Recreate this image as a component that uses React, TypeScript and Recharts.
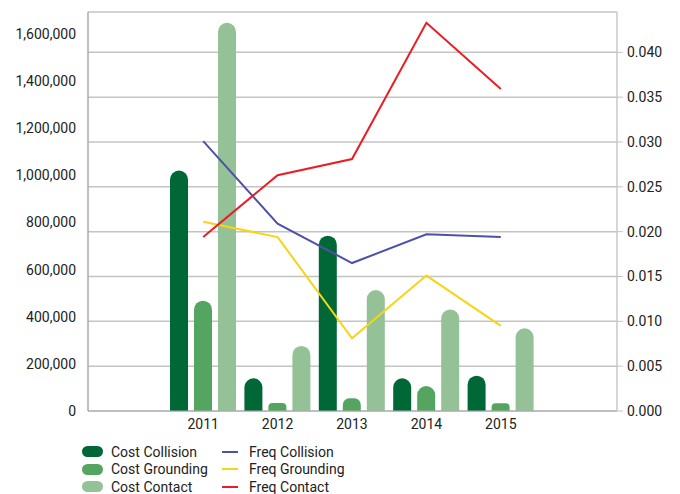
import React from 'react';
import { ComposedChart, Bar, Line, XAxis, YAxis, CartesianGrid, Legend } from 'recharts';

const years = ['2011', '2012', '2013', '2014', '2015'];
const costCollision = [1020000, 139000, 744000, 139000, 150000];
const costGrounding = [468000, 34000, 54000, 106000, 33000];
const costContact = [1647000, 276000, 513000, 431000, 351000];
const freqCollision = [0.0301, 0.0209, 0.0165, 0.0197, 0.0194];
const freqGrounding = [0.0211, 0.0194, 0.0081, 0.0151, 0.0095];
const freqContact = [0.0194, 0.0263, 0.0281, 0.0433, 0.0359];
const leftTicks = [0, 200000, 400000, 600000, 800000, 1000000, 1200000, 1400000, 1600000];
const rightTicks = [0, 0.005, 0.01, 0.015, 0.02, 0.025, 0.03, 0.035, 0.04];
const seriesNames = ['Cost Collision', 'Cost Grounding', 'Cost Contact', 'Freq Collision', 'Freq Grounding', 'Freq Contact'];

const data = years.map((y, i) => ({
  year: y,
  costCollision: costCollision[i],
  costGrounding: costGrounding[i],
  costContact: costContact[i],
  freqCollision: freqCollision[i],
  freqGrounding: freqGrounding[i],
  freqContact: freqContact[i],
}));

const FONT = 'Roboto, "Noto Sans", sans-serif';
const TEXT = '#222';

const LegendContent = (props: any) => {
  const payload = [...(props.payload || [])].sort(
    (a: any, b: any) => seriesNames.indexOf(a.value) - seriesNames.indexOf(b.value)
  );
  return (
    <div
      style={{
        display: 'grid',
        gridTemplateColumns: '140px 170px',
        gridTemplateRows: 'repeat(3, 17.5px)',
        gridAutoFlow: 'column',
        fontFamily: FONT,
        fontSize: 14,
        color: TEXT,
      }}
    >
      {payload.map((p: any) => {
        const isBar = p.type !== 'line';
        return (
          <div key={p.value} style={{ display: 'flex', alignItems: 'center', whiteSpace: 'nowrap' }}>
            {isBar ? (
              <span
                style={{
                  display: 'inline-block',
                  width: 21,
                  height: 11,
                  borderRadius: 6,
                  background: p.color,
                  marginRight: 8,
                }}
              />
            ) : (
              <span
                style={{
                  display: 'inline-block',
                  width: 16,
                  height: 2,
                  background: p.color,
                  marginRight: 11,
                }}
              />
            )}
            <span>{p.value}</span>
          </div>
        );
      })}
    </div>
  );
};

export default function App() {
  return (
    <div style={{ position: 'absolute', left: 0, top: 0, fontFamily: FONT }}>
      <ComposedChart
        width={680}
        height={494}
        data={data}
        margin={{ top: 12, right: 0, left: 0, bottom: 53 }}
        barSize={18}
        barGap={6}
      >
        <CartesianGrid vertical={false} yAxisId="right" stroke="#c4c4c4" strokeWidth={1.5} />
        <XAxis
          dataKey="year"
          padding={{ left: 78, right: 79 }}
          tickLine={false}
          axisLine={{ stroke: '#aaa' }}
          tick={{ fill: TEXT, fontSize: 14 }}
          interval={0}
          height={30}
        />
        <YAxis
          yAxisId="aTicks"
          orientation="left"
          width={1}
          domain={[0, 0.0445]}
          ticks={rightTicks}
          tick={false}
          tickSize={6}
          tickLine={{ stroke: '#aaa' }}
          axisLine={{ stroke: '#aaa', strokeWidth: 1.5 }}
        />
        <YAxis
          yAxisId="left"
          orientation="left"
          width={87}
          domain={[0, 1693000]}
          ticks={leftTicks}
          axisLine={false}
          tickLine={false}
          tickSize={6}
          tickMargin={5}
          tick={{ fill: TEXT, fontSize: 14 }}
          tickFormatter={(v: number) => v.toLocaleString('en-US')}
        />
        <YAxis
          yAxisId="right"
          orientation="right"
          width={63}
          domain={[0, 0.0445]}
          ticks={rightTicks}
          tickSize={6}
          tickMargin={4}
          tickLine={{ stroke: '#c4c4c4' }}
          axisLine={{ stroke: '#c8c8c8', strokeWidth: 1.5 }}
          tick={{ fill: TEXT, fontSize: 14 }}
          tickFormatter={(v: number) => v.toFixed(3)}
        />
        <Bar yAxisId="left" dataKey="costCollision" name="Cost Collision" fill="#006837" radius={[9, 9, 0, 0]} isAnimationActive={false} legendType="rect" />
        <Bar yAxisId="left" dataKey="costGrounding" name="Cost Grounding" fill="#54a560" radius={[9, 9, 0, 0]} isAnimationActive={false} legendType="rect" />
        <Bar yAxisId="left" dataKey="costContact" name="Cost Contact" fill="#94c195" radius={[9, 9, 0, 0]} isAnimationActive={false} legendType="rect" />
        <Line yAxisId="right" dataKey="freqCollision" name="Freq Collision" stroke="#4e52a6" strokeWidth={2} dot={false} activeDot={false} isAnimationActive={false} legendType="line" />
        <Line yAxisId="right" dataKey="freqGrounding" name="Freq Grounding" stroke="#f7d417" strokeWidth={2} dot={false} activeDot={false} isAnimationActive={false} legendType="line" />
        <Line yAxisId="right" dataKey="freqContact" name="Freq Contact" stroke="#ec1c24" strokeWidth={2} dot={false} activeDot={false} isAnimationActive={false} legendType="line" />
        <Legend
          layout="horizontal"
          verticalAlign="middle"
          align="center"
          content={<LegendContent />}
          wrapperStyle={{ position: 'absolute', left: 82, top: 443, width: 320, height: 52 }}
        />
      </ComposedChart>
    </div>
  );
}
